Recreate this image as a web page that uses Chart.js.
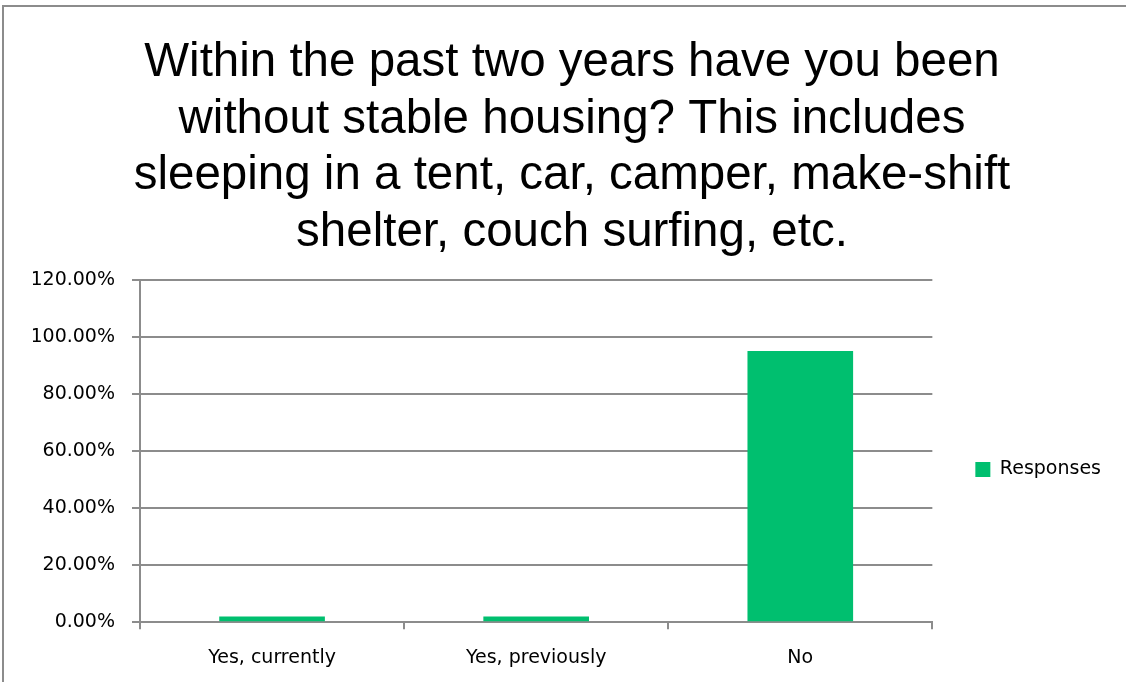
<!DOCTYPE html>
<html lang="en">
<head>
    <meta charset="UTF-8">
    <title>Stable housing</title>
    <script src="https://cdn.jsdelivr.net/npm/chart.js"></script>
    <style>
        body {
            margin: 0;
            background: #fff;
            overflow: hidden;
        }

        /* marco gris arriba e izquierda, como en la captura */
        #frame {
            position: absolute;
            left: 2px;
            top: 5px;
            width: 1124px;
            height: 681px;
            border-top: 2px solid #8c8c8c;
            border-left: 2px solid #8c8c8c;
        }

        #housingChart {
            display: block;
        }
    </style>
</head>
<body>
    <div id="frame">
        <canvas id="housingChart" width="1122" height="679"></canvas>
    </div>

    <script>
        // Datos del gráfico
        const categories = ['Yes, currently', 'Yes, previously', 'No'];
        const responses = [2.0, 2.0, 95.1];
        const titleLines = [
            'Within the past two years have you been',
            'without stable housing? This includes',
            'sleeping in a tent, car, camper, make-shift',
            'shelter, couch surfing, etc.'
        ];

        const gridGray = '#8c8c8c';
        const barGreen = '#00bf6f';
        const tickFont = { family: 'DejaVu Sans', size: 19 };

        const ctx = document.getElementById('housingChart').getContext('2d');
        const housingChart = new Chart(ctx, {
            type: 'bar',
            data: {
                labels: categories,
                datasets: [{
                    label: 'Responses',
                    data: responses,
                    backgroundColor: barGreen,
                    borderWidth: 0,
                    categoryPercentage: 0.4,
                    barPercentage: 1.0
                }]
            },
            options: {
                responsive: false,
                animation: false,
                layout: {
                    padding: { left: 29, right: 15, top: 0, bottom: 0 }
                },
                plugins: {
                    title: {
                        display: true,
                        text: titleLines,
                        color: '#000',
                        font: { family: 'Liberation Sans', size: 47.5, weight: 'normal', lineHeight: 1.19 },
                        padding: { top: 28, bottom: 19 }
                    },
                    legend: {
                        position: 'right',
                        fullSize: false,
                        title: {
                            display: true,
                            text: ' ',
                            font: { size: 14 },
                            padding: 10
                        },
                        labels: {
                            color: '#000',
                            font: tickFont,
                            boxWidth: 15,
                            boxHeight: 15,
                            padding: 43
                        }
                    },
                    tooltip: { enabled: false }
                },
                scales: {
                    x: {
                        grid: {
                            display: true,
                            drawOnChartArea: false,
                            drawTicks: true,
                            tickLength: 7,
                            offset: true,
                            color: gridGray,
                            lineWidth: 2
                        },
                        border: { color: gridGray, width: 2 },
                        ticks: {
                            color: '#000',
                            font: tickFont,
                            padding: 17
                        }
                    },
                    y: {
                        min: 0,
                        max: 120,
                        afterFit: axis => { axis.width = 107; },
                        grid: {
                            color: gridGray,
                            lineWidth: 2,
                            tickLength: 8
                        },
                        border: { color: gridGray, width: 2 },
                        ticks: {
                            stepSize: 20,
                            color: '#000',
                            font: tickFont,
                            padding: 17,
                            callback: v => v.toFixed(2) + '%'
                        }
                    }
                }
            }
        });
    </script>
</body>
</html>
